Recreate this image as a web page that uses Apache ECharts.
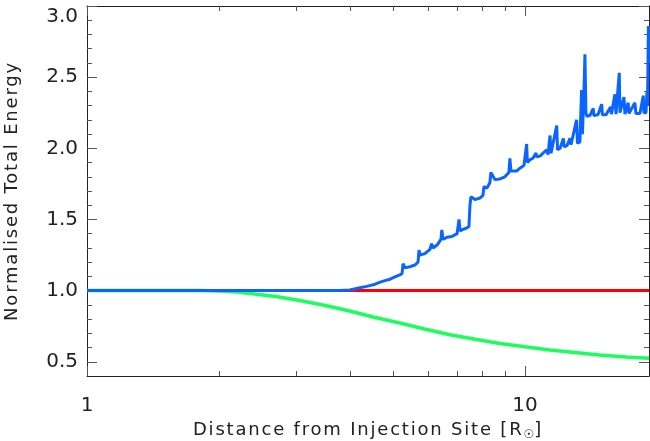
<!DOCTYPE html>
<html>
<head>
<meta charset="utf-8">
<script src="https://cdn.jsdelivr.net/npm/echarts@6/dist/echarts.min.js"></script>
<style>
html,body{margin:0;padding:0;background:#fff;}
#chart{width:650px;height:441px;}
</style>
</head>
<body>
<div id="chart"></div>
<script>
// ---- data ----
const X_MIN = 1;
const X_MAX = 19.2;
const Y_MIN = 0.4;
const Y_MAX = 3.0;

const xTicksMajor = [1, 10];
const xTicksMinor = [2, 3, 4, 5, 6, 7, 8, 9];
const yTicksMajor = [0.5, 1.0, 1.5, 2.0, 2.5, 3.0];
const yTicksMinor = [0.6, 0.7, 0.8, 0.9, 1.1, 1.2, 1.3, 1.4, 1.6, 1.7, 1.8, 1.9,
                     2.1, 2.2, 2.3, 2.4, 2.6, 2.7, 2.8, 2.9];

const redSeries = [
  [1, 1.0], [2, 1.0], [4, 1.0], [6, 1.001], [8, 1.0], [10, 1.001], [13, 1.0], [16, 1.001], [19.2, 1.0]
];

const greenSeries = [
  [1, 1.0], [1.5, 1.0], [1.8, 1.0], [2.0, 0.998], [2.2, 0.99], [2.36, 0.98], [2.7, 0.958],
  [3.06, 0.93], [3.5, 0.895], [4.0, 0.855], [4.5, 0.815], [5.18, 0.772], [5.9, 0.73],
  [6.74, 0.69], [7.7, 0.658], [8.77, 0.628], [10, 0.605], [11.4, 0.583], [13, 0.565],
  [14.8, 0.547], [17, 0.533], [19.2, 0.524]
];

const blueSeries = [
  [1, 1.0], [2, 1.0], [3, 1.0], [3.78, 1.0], [3.98, 1.004], [4.2, 1.02], [4.35, 1.03],
  [4.55, 1.045], [4.67, 1.06], [4.79, 1.07], [4.92, 1.08], [5.08, 1.10], [5.18, 1.11],
  [5.24, 1.12], [5.27, 1.19], [5.32, 1.16], [5.46, 1.168], [5.61, 1.18], [5.70, 1.20],
  [5.73, 1.285], [5.76, 1.25], [5.91, 1.26], [6.07, 1.29], [6.12, 1.33], [6.17, 1.30],
  [6.30, 1.32], [6.43, 1.36], [6.46, 1.426], [6.50, 1.36], [6.64, 1.375], [6.81, 1.38],
  [7.0, 1.40], [7.07, 1.50], [7.11, 1.42], [7.22, 1.43], [7.36, 1.44], [7.45, 1.45],
  [7.49, 1.60], [7.53, 1.66], [7.69, 1.64], [7.89, 1.65], [8.02, 1.67], [8.06, 1.73],
  [8.19, 1.72], [8.32, 1.76], [8.36, 1.83], [8.54, 1.78], [8.77, 1.785], [9.0, 1.80],
  [9.19, 1.83], [9.24, 1.93], [9.29, 1.84], [9.57, 1.84], [9.74, 1.86], [9.95, 1.88],
  [10.09, 2.03], [10.13, 1.90], [10.27, 1.92], [10.43, 1.93], [10.60, 1.966], [10.64, 1.94],
  [10.82, 1.945], [11.21, 1.99], [11.29, 1.955], [11.41, 2.09], [11.47, 1.965], [11.59, 1.975],
  [11.82, 2.16], [11.87, 1.99], [12.03, 2.0], [12.24, 2.07], [12.30, 2.01], [12.48, 2.02],
  [12.67, 2.07], [12.74, 2.025], [12.87, 2.03], [13.12, 2.20], [13.18, 2.035], [13.35, 2.045],
  [13.47, 2.41], [13.53, 2.10], [13.64, 2.40], [13.71, 2.66], [13.78, 2.25], [13.85, 2.225],
  [14.07, 2.23], [14.32, 2.28], [14.37, 2.23], [14.68, 2.235], [14.97, 2.31], [15.03, 2.235],
  [15.31, 2.235], [15.69, 2.29], [15.76, 2.24], [16.05, 2.38], [16.14, 2.24], [16.42, 2.53],
  [16.48, 2.25], [16.83, 2.36], [16.92, 2.24], [17.21, 2.32], [17.28, 2.245], [17.83, 2.32],
  [17.92, 2.245], [18.31, 2.245], [18.63, 2.37], [18.70, 2.25], [18.90, 2.25], [19.0, 2.40],
  [19.05, 2.30], [19.14, 2.86], [19.2, 2.6]
];

// ---- wider letter spacing for the axis titles (18px text only) ----
(function () {
  const P = CanvasRenderingContext2D.prototype;
  if (!('letterSpacing' in P)) return;
  const fill = P.fillText, meas = P.measureText;
  function setLS(ctx) {
    ctx.letterSpacing = /(^|\s)18px/.test(ctx.font) ? '1.8px' : '0px';
  }
  P.fillText = function () { setLS(this); return fill.apply(this, arguments); };
  P.measureText = function () { setLS(this); return meas.apply(this, arguments); };
})();

// ---- chart ----
const FONT = 'DejaVu Sans';
const AX = '#222';
const TK = '#555';

function tickAxisX(pos, values, len, withLine) {
  return {
    type: 'log', logBase: 10, min: X_MIN, max: X_MAX, position: pos, gridIndex: 0,
    axisLine: { show: withLine, lineStyle: { color: AX, width: 1 } },
    axisTick: { show: true, inside: true, length: len, customValues: values, lineStyle: { color: TK } },
    axisLabel: { show: false },
    splitLine: { show: false }
  };
}
function tickAxisY(pos, values, len, withLine) {
  return {
    type: 'value', min: Y_MIN, max: Y_MAX, position: pos, gridIndex: 0,
    axisLine: { show: withLine, lineStyle: { color: AX, width: 1 } },
    axisTick: { show: true, inside: true, length: len, customValues: values, lineStyle: { color: TK } },
    axisLabel: { show: false },
    splitLine: { show: false }
  };
}

const chart = echarts.init(document.getElementById('chart'), null, { renderer: 'canvas' });
chart.setOption({
  animation: false,
  backgroundColor: '#fff',
  grid: { left: 87, right: 1, top: 6, bottom: 65, containLabel: false, outerBoundsMode: 'none' },
  xAxis: [
    {
      type: 'log', logBase: 10, min: X_MIN, max: X_MAX, position: 'bottom',
      name: 'Distance from Injection Site [R{s|☉}]',
      nameLocation: 'middle', nameGap: 41,
      nameTextStyle: {
        fontFamily: FONT, fontSize: 18, color: '#222',
        rich: { s: { fontFamily: FONT, fontSize: 12, color: '#222', verticalAlign: 'bottom', padding: [8, 0, 0, 0] } }
      },
      axisLine: { show: true, lineStyle: { color: AX, width: 1 } },
      axisTick: { show: true, inside: true, length: 10, lineStyle: { color: TK } },
      axisLabel: { show: true, margin: 20, fontFamily: FONT, fontSize: 20, color: '#222',
                   showMaxLabel: false,
                   formatter: function (v) { return String(v); } },
      splitLine: { show: false }
    },
    tickAxisX('bottom', xTicksMinor, 5, false),
    tickAxisX('top', xTicksMajor, 10, true),
    tickAxisX('top', xTicksMinor, 5, false)
  ],
  yAxis: [
    {
      type: 'value', min: Y_MIN, max: Y_MAX, position: 'left',
      name: 'Normalised Total Energy',
      nameLocation: 'middle', nameGap: 65,
      nameTextStyle: { fontFamily: FONT, fontSize: 18, color: '#222' },
      axisLine: { show: true, lineStyle: { color: AX, width: 1 } },
      axisTick: { show: true, inside: true, length: 10, customValues: yTicksMajor, lineStyle: { color: TK } },
      axisLabel: {
        show: true, margin: 9, fontFamily: FONT, fontSize: 20, color: '#222',
        customValues: yTicksMajor,
        formatter: function (v) {
          const s = Number(v).toFixed(1);
          return v >= Y_MAX - 1e-9 ? '{t|' + s + '}' : s;
        },
        rich: { t: { fontFamily: FONT, fontSize: 20, color: '#222', padding: [22, 0, 0, 0] } }
      },
      splitLine: { show: false }
    },
    tickAxisY('left', yTicksMinor, 5, false),
    tickAxisY('right', yTicksMajor, 10, true),
    tickAxisY('right', yTicksMinor, 5, false)
  ],
  series: [
    { type: 'line', data: greenSeries, xAxisIndex: 0, yAxisIndex: 0, showSymbol: false,
      lineStyle: { color: '#1aff5c', width: 3.5 }, z: 2 },
    { type: 'line', data: redSeries, xAxisIndex: 0, yAxisIndex: 0, showSymbol: false,
      lineStyle: { color: '#ff0000', width: 3 }, z: 3 },
    { type: 'line', data: blueSeries, xAxisIndex: 0, yAxisIndex: 0, showSymbol: false,
      lineStyle: { color: '#0a64ff', width: 3 }, z: 4 }
  ]
});
</script>
</body>
</html>
